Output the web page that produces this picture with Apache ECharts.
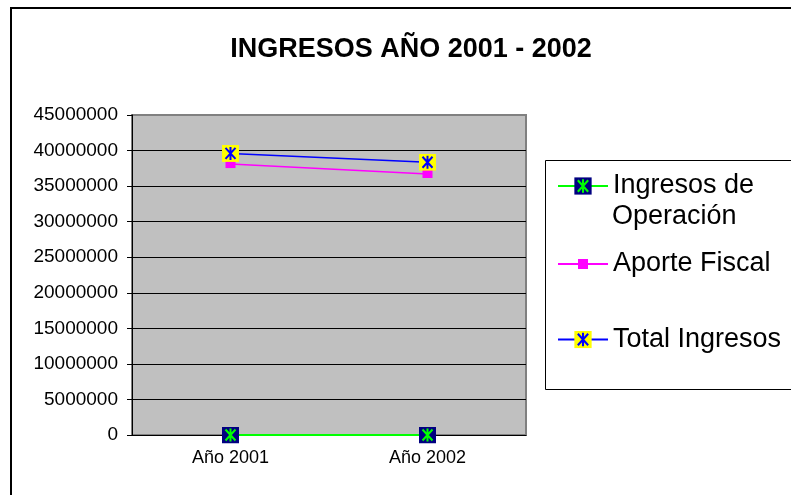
<!DOCTYPE html>
<html>
<head>
<meta charset="utf-8">
<script src="https://cdn.jsdelivr.net/npm/echarts@6/dist/echarts.min.js"></script>
<style>
    html, body { margin: 0; padding: 0; background: #fff; }
    #chart { width: 791px; height: 495px; }
</style>
</head>
<body>
<div id="chart"></div>
<script>
'use strict';

// datos
var categorias = ['Año 2001', 'Año 2002'];
var ingresosOperacion = [0, 0];
var aporteFiscal = [38100000, 36700000];
var totalIngresos = [39600000, 38350000];

var fuente = 'Liberation Sans, Arial, sans-serif';

// marcador cuadrado con asterisco (estilo Excel)
function marcador(fondo, trazo) {
    var svg = "<svg xmlns='http://www.w3.org/2000/svg' width='17' height='17' viewBox='0 0 17 17'>" +
        "<rect width='17' height='17' fill='" + fondo + "'/>" +
        "<path d='M8.5 2V15M3.5 3L13.5 14M13.5 3L3.5 14' stroke='" + trazo + "' stroke-width='2' fill='none'/>" +
        "</svg>";
    return 'image://data:image/svg+xml;charset=utf-8,' + encodeURIComponent(svg);
}

var chart = echarts.init(document.getElementById('chart'));

var leyendaBase = {
    orient: 'vertical',
    left: 557,
    padding: 0,
    itemWidth: 50,
    selectedMode: false,
    textStyle: { fontFamily: fuente, fontSize: 27, color: '#000', lineHeight: 33 }
};

var option = {
    animation: false,
    backgroundColor: '#fff',
    title: {
        text: 'INGRESOS AÑO 2001 - 2002',
        left: 406,
        top: 31,
        textAlign: 'center',
        textStyle: { fontFamily: fuente, fontSize: 27, fontWeight: 'bold', color: '#000' }
    },
    graphic: [
        // borde exterior
        {
            type: 'rect',
            shape: { x: 11, y: 8, width: 820, height: 520 },
            style: { fill: 'none', stroke: '#000', lineWidth: 2 },
            silent: true
        },
        // caja de la leyenda
        {
            type: 'rect',
            shape: { x: 545.5, y: 160.5, width: 300, height: 229 },
            style: { fill: 'none', stroke: '#000', lineWidth: 1 },
            silent: true
        },
        {
            type: 'text',
            left: 612,
            top: 203,
            style: { text: 'Operación', fontFamily: fuente, fontSize: 27, fill: '#000' },
            silent: true
        }
    ],
    legend: [
        Object.assign({}, leyendaBase, {
            top: 169.5,
            itemHeight: 22,
            data: ['Ingresos de Operación'],
            formatter: function () { return 'Ingresos de'; }
        }),
        Object.assign({}, leyendaBase, {
            top: 247.5,
            itemHeight: 12.5,
            data: ['Aporte Fiscal']
        }),
        Object.assign({}, leyendaBase, {
            top: 323,
            itemHeight: 22,
            data: ['Total Ingresos']
        })
    ],
    grid: {
        left: 132,
        right: 265,
        top: 115,
        bottom: 60,
        show: true,
        backgroundColor: '#C0C0C0',
        borderColor: '#808080',
        borderWidth: 2
    },
    xAxis: {
        type: 'category',
        data: categorias,
        boundaryGap: true,
        axisLine: { lineStyle: { color: '#000', width: 1 } },
        axisTick: { length: 5, lineStyle: { color: '#000' } },
        axisLabel: { fontFamily: fuente, fontSize: 18, color: '#000', margin: 14 },
        splitLine: { show: false }
    },
    yAxis: {
        type: 'value',
        min: 0,
        max: 45000000,
        interval: 5000000,
        axisLine: { show: true, lineStyle: { color: '#000', width: 1 } },
        axisTick: { show: true, length: 5, lineStyle: { color: '#000' } },
        axisLabel: {
            fontFamily: fuente,
            fontSize: 19,
            color: '#000',
            margin: 14,
            formatter: function (v) { return String(v); }
        },
        splitLine: {
            show: true,
            showMinLine: false,
            showMaxLine: false,
            lineStyle: { color: '#000', width: 1 }
        }
    },
    series: [
        {
            name: 'Ingresos de Operación',
            type: 'line',
            data: ingresosOperacion,
            symbol: marcador('#000080', '#00FF00'),
            symbolSize: 17,
            color: '#00FF00',
            lineStyle: { color: '#00FF00', width: 2 },
            clip: false,
            z: 3
        },
        {
            name: 'Aporte Fiscal',
            type: 'line',
            data: aporteFiscal,
            symbol: 'rect',
            symbolSize: [10, 8],
            color: '#FF00FF',
            itemStyle: { color: '#FF00FF' },
            lineStyle: { color: '#FF00FF', width: 1.5 },
            z: 2
        },
        {
            name: 'Total Ingresos',
            type: 'line',
            data: totalIngresos,
            symbol: marcador('#FFFF00', '#0000FF'),
            symbolSize: 17,
            color: '#0000FF',
            lineStyle: { color: '#0000FF', width: 1.5 },
            z: 4
        }
    ]
};

chart.setOption(option);
</script>
</body>
</html>
